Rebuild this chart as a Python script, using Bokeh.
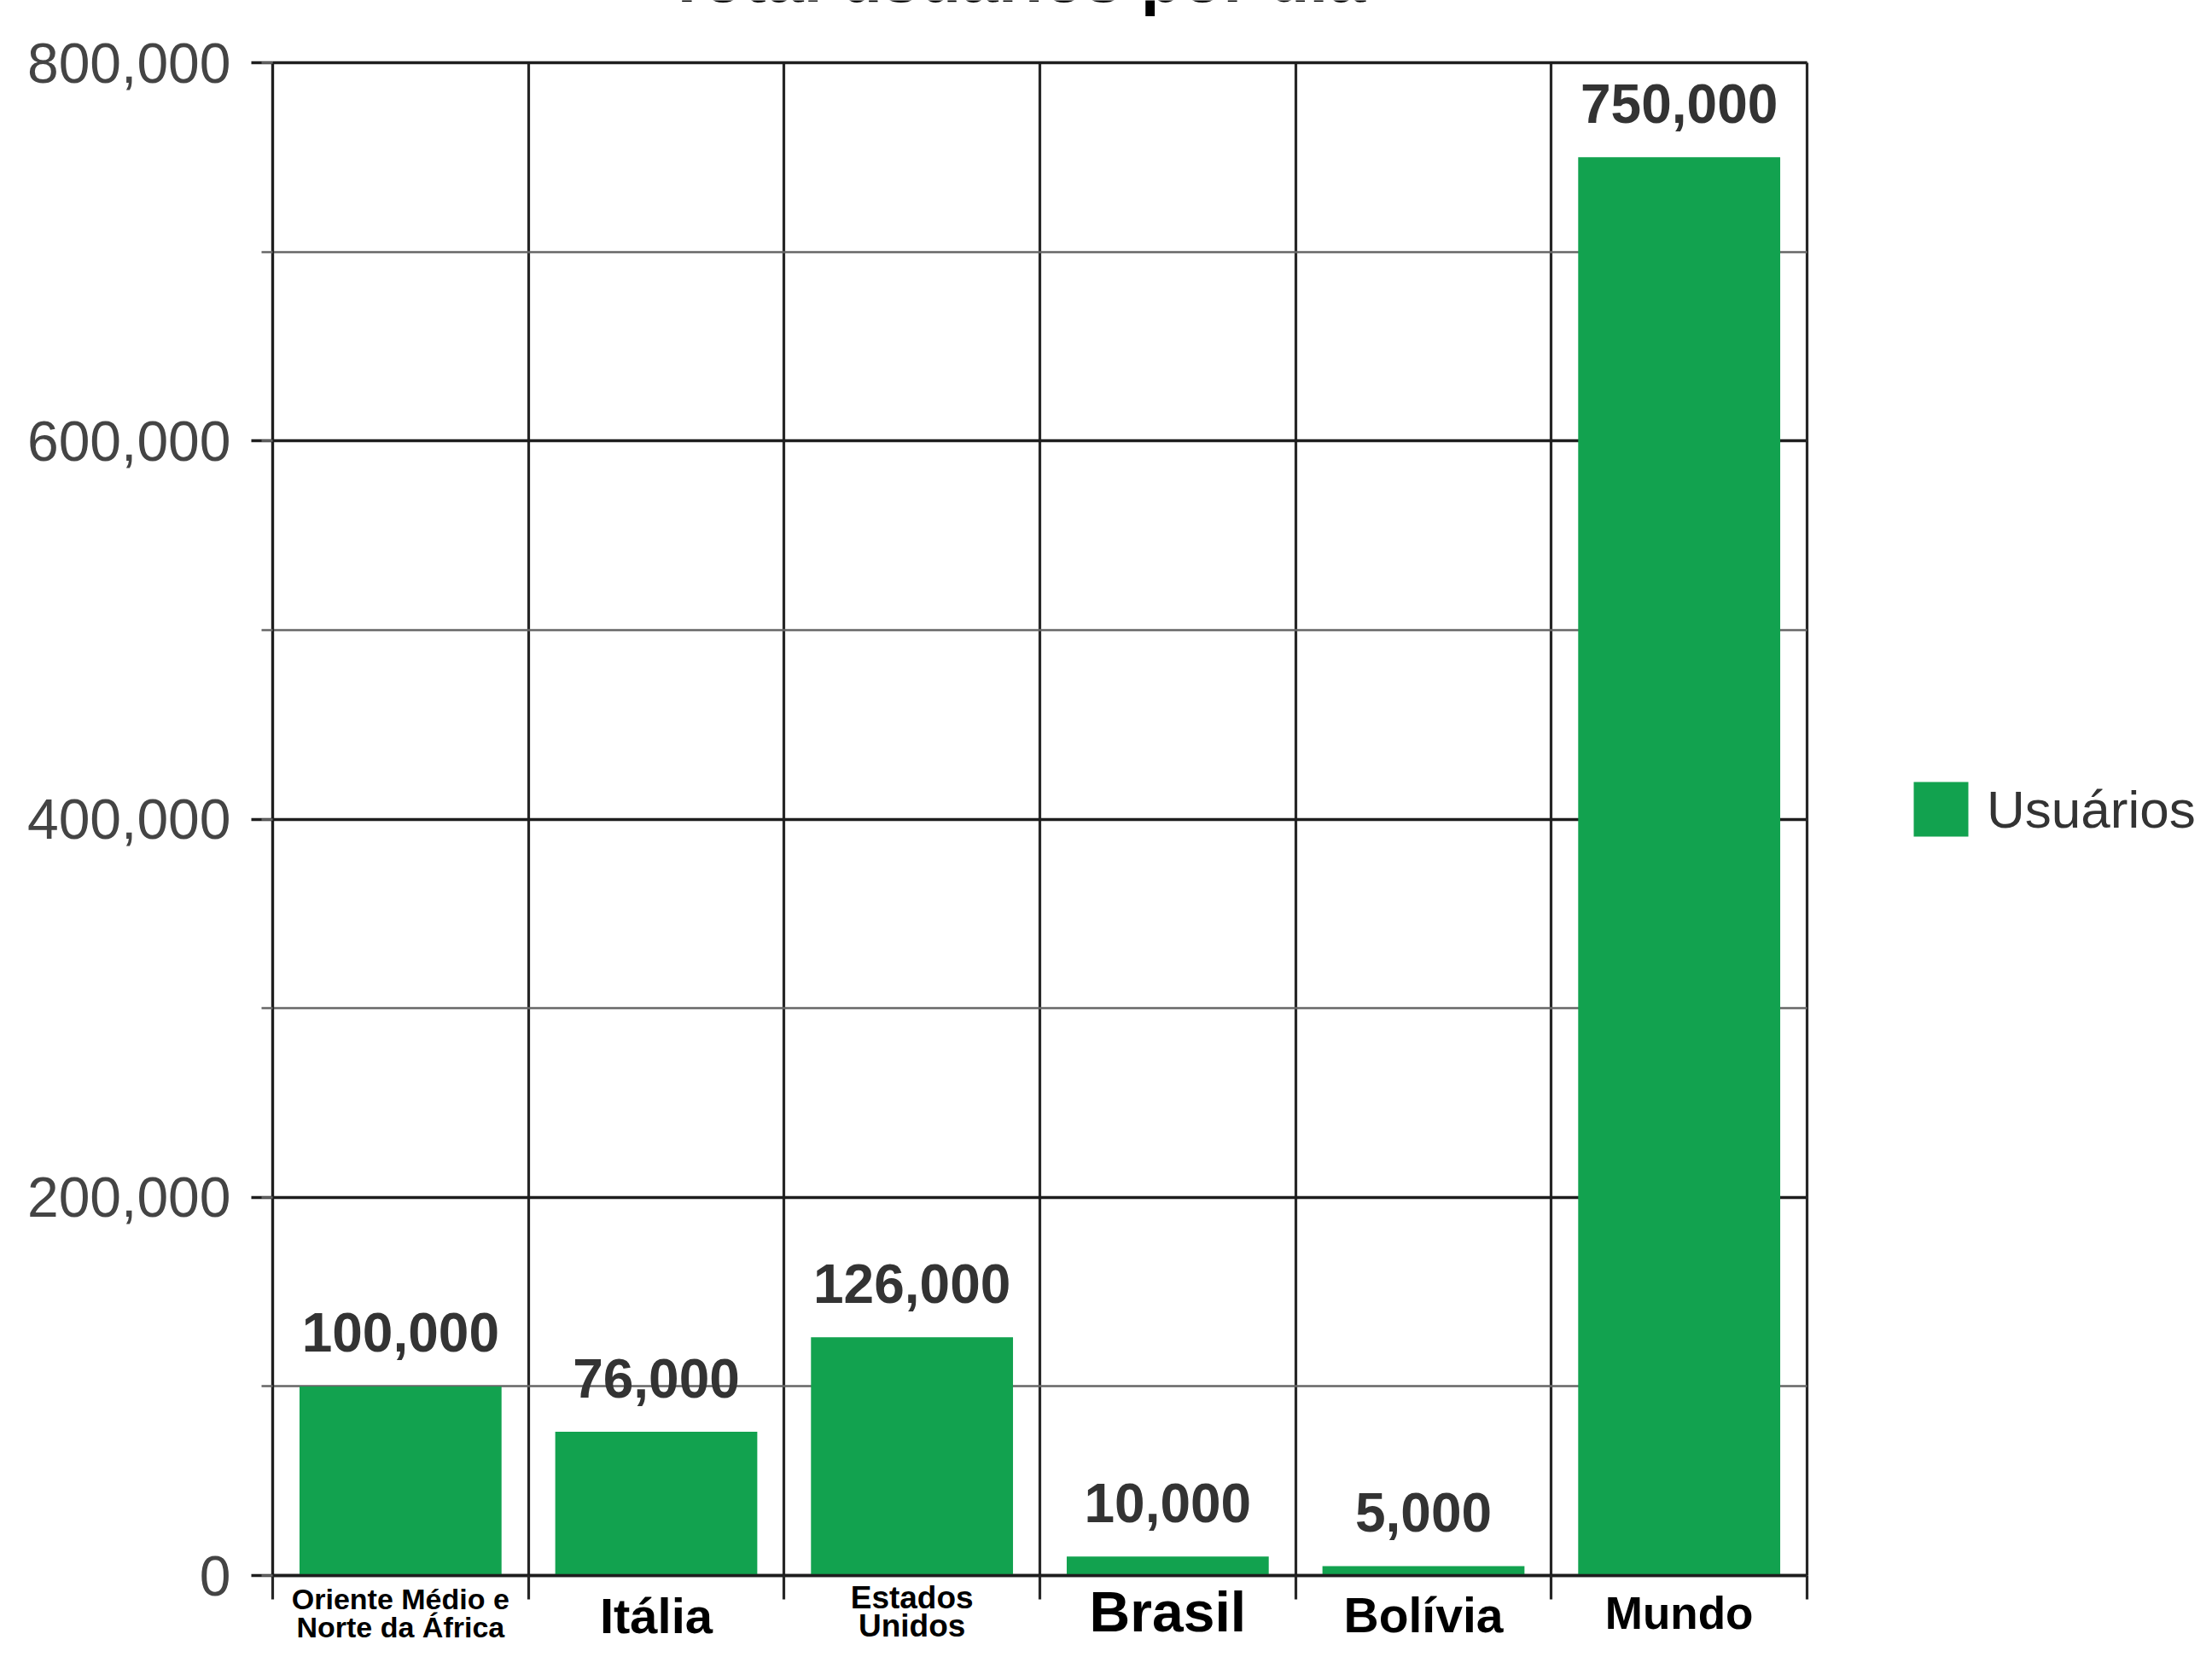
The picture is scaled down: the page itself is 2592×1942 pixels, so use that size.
from bokeh.plotting import figure
from bokeh.models import (Range1d, FixedTicker, SingleIntervalTicker, NumeralTickFormatter,
                          Label, Legend, LegendItem, ColumnDataSource)
from bokeh.embed import file_html
from bokeh.resources import INLINE

# ---------------- data ----------------
title_text = "Total usuários por dia"
categories = ["Oriente Médio e\nNorte da África", "Itália", "Estados\nUnidos",
              "Brasil", "Bolívia", "Mundo"]
usuarios = [100000, 76000, 126000, 10000, 5000, 750000]
value_labels = ["100,000", "76,000", "126,000", "10,000", "5,000", "750,000"]
series_name = "Usuários"
y_max = 800000
y_step = 200000

# ---------------- styling ----------------
cat_font_px = [34, 58, 37, 66, 57, 53]
cat_offsets = [[27, 60], [47], [26, 59], [42], [46], [44]]

GREEN = "#12A24F"
W, H = 2576, 1926
X0, X1 = 319, 2117      # canvas x of category-axis start / end
Y0, Y1 = 1846, 73       # canvas y of value 0 / y_max

n = len(categories)
ppx = (X1 - X0) / n
ppy = (Y0 - Y1) / y_max

p = figure(width=W, height=H, output_backend="svg", toolbar_location=None,
           x_range=Range1d(-X0 / ppx, n + (W - X1) / ppx),
           y_range=Range1d(-(H - Y0) / ppy, y_max + Y1 / ppy),
           min_border=0, min_border_left=0, min_border_right=0,
           min_border_top=0, min_border_bottom=0,
           background_fill_color="white", border_fill_color="white")
p.title.visible = False
p.outline_line_color = None

xs = [i + 0.5 for i in range(n)]
src = ColumnDataSource(dict(x=xs, top=usuarios, lab=value_labels))
bars = p.vbar(x="x", top="top", width=0.79, source=src, fill_color=GREEN, line_color=None)

# grids
yt = SingleIntervalTicker(interval=y_step, num_minor_ticks=2)
xt = FixedTicker(ticks=list(range(n + 1)))
p.ygrid.ticker = yt
p.xgrid.ticker = xt
p.ygrid.bounds = (0, y_max)
p.xgrid.bounds = (0, n)
p.ygrid.cross_bounds = (0, n)
p.xgrid.cross_bounds = (0, y_max)
p.ygrid.grid_line_color = "#1e1e1e"
p.ygrid.grid_line_width = 3.5
p.ygrid.minor_grid_line_color = "#666666"
p.ygrid.minor_grid_line_width = 2.5
p.xgrid.grid_line_color = "#262626"
p.xgrid.grid_line_width = 3.2

# y axis
ya = p.yaxis[0]
ya.fixed_location = 0
ya.bounds = (0, y_max)
ya.ticker = yt
ya.formatter = NumeralTickFormatter(format="0,0")
ya.axis_line_color = "#1e1e1e"
ya.axis_line_width = 3.2
ya.major_tick_in = 0
ya.major_tick_out = 25
ya.major_tick_line_width = 3.5
ya.major_tick_line_color = "#1e1e1e"
ya.minor_tick_in = 0
ya.minor_tick_out = 13
ya.minor_tick_line_width = 2.5
ya.minor_tick_line_color = "#666666"
ya.major_label_standoff = 24
ya.major_label_text_font = "Liberation Sans"
ya.major_label_text_font_size = "66px"
ya.major_label_text_color = "#444444"

# x axis
xa = p.xaxis[0]
xa.fixed_location = 0
xa.bounds = (0, n)
xa.ticker = xt
xa.axis_line_color = "#1e1e1e"
xa.axis_line_width = 3.5
xa.major_tick_in = 0
xa.major_tick_out = 28
xa.major_tick_line_width = 3.2
xa.major_tick_line_color = "#262626"
xa.minor_tick_line_color = None
xa.major_label_overrides = {i: "" for i in range(n + 1)}

# value labels above bars
for xv, top, lab in zip(xs, usuarios, value_labels):
    p.add_layout(Label(x=xv, y=top, y_offset=63, text=lab,
                       text_align="center", text_baseline="alphabetic",
                       text_font="Liberation Sans", text_font_style="bold",
                       text_font_size="64px", text_color="#333333"))

# category labels
for i, name in enumerate(categories):
    for line, off in zip(name.split("\n"), cat_offsets[i]):
        p.add_layout(Label(x=xs[i], y=0, y_offset=-off, text=line,
                           text_align="center", text_baseline="middle",
                           text_font="Liberation Sans", text_font_style="bold",
                           text_font_size=f"{cat_font_px[i]}px", text_color="#000000"))

# title (mostly cut off at the top, as in the reference)
p.add_layout(Label(x=(1190 - X0) / ppx, y=y_max + (Y1 + 26) / ppy,
                   text=title_text, text_align="center", text_baseline="alphabetic",
                   text_font="Liberation Sans", text_font_style="bold",
                   text_font_size="79px", text_color="#000000"))

legend = Legend(items=[LegendItem(label=series_name, renderers=[bars])],
                location=(2234, H - 988), glyph_width=80, glyph_height=80, label_height=80,
                label_standoff=14, label_text_font="Liberation Sans",
                label_text_font_size="62px", label_text_color="#333333",
                border_line_color=None, background_fill_alpha=0, padding=0, margin=0)
p.add_layout(legend)

open("out.html", "w").write(file_html(p, INLINE))
